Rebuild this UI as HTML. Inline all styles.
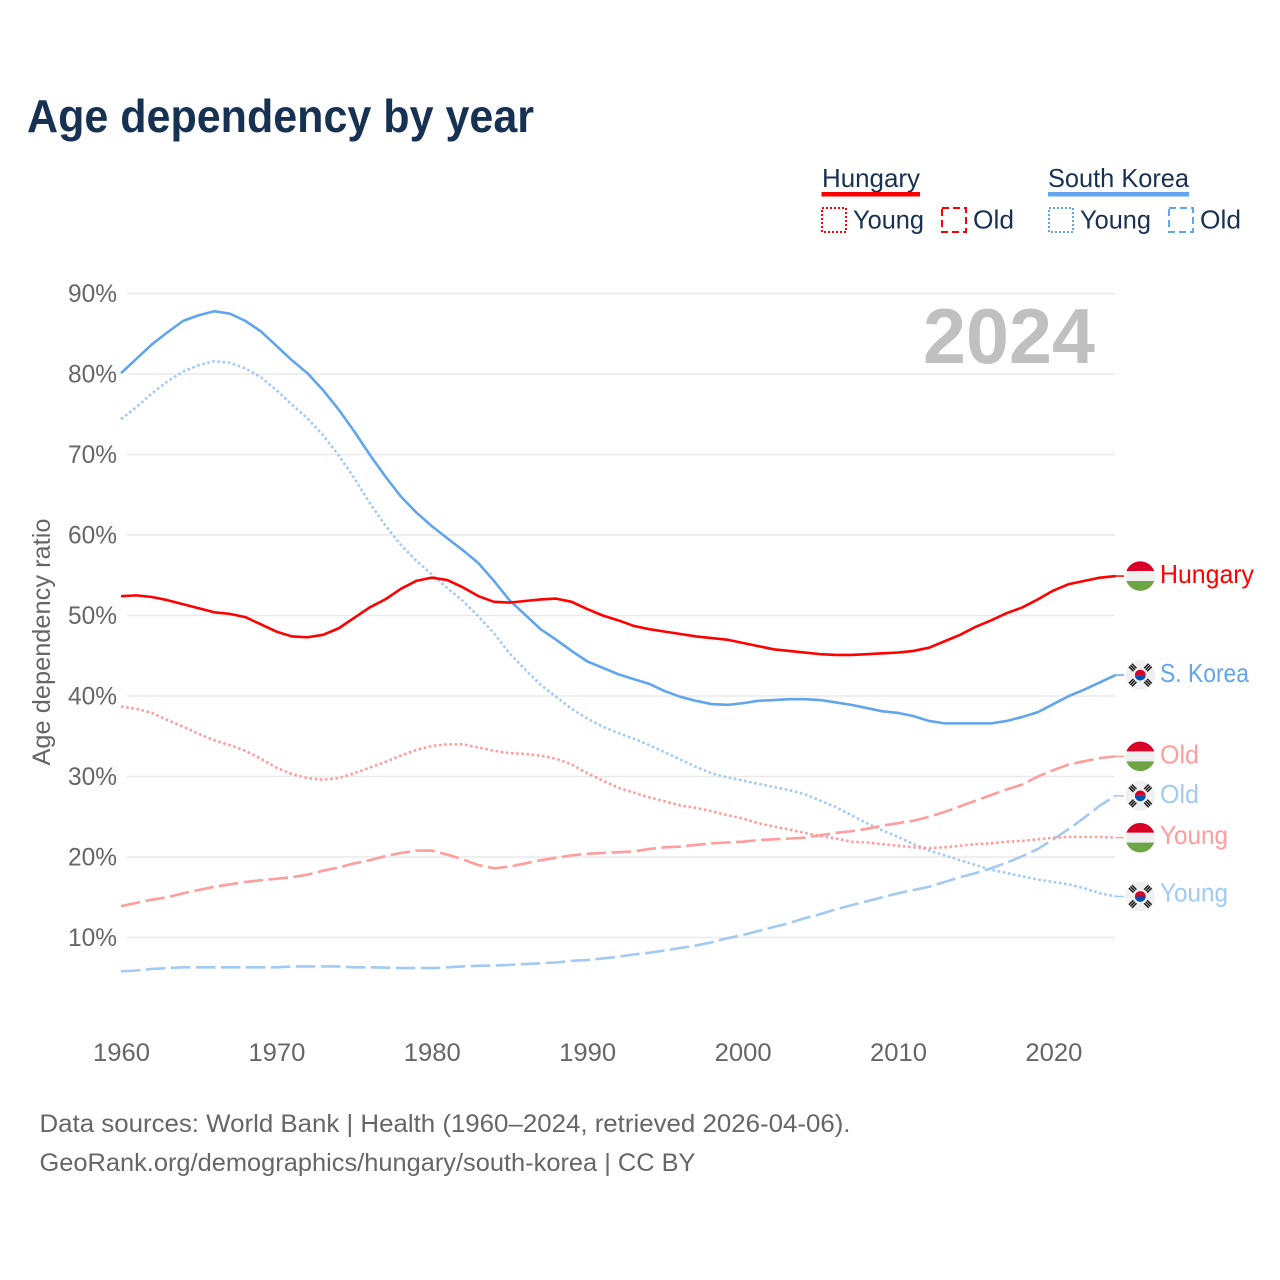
<!DOCTYPE html>
<html lang="en">
<head>
<meta charset="utf-8">
<title>Age dependency by year</title>
<style>
html,body{margin:0;padding:0;background:#fff;}
svg{display:block;font-family:"Liberation Sans",sans-serif;}
</style>
</head>
<body>
<svg id="chart" xmlns="http://www.w3.org/2000/svg" width="1280" height="1280" viewBox="0 0 1280 1280">
  <text x="27" y="132" font-size="46" font-weight="700" fill="#173152" textLength="507" lengthAdjust="spacingAndGlyphs">Age dependency by year</text>

  <g font-size="26" fill="#173152">
    <text x="822" y="187" textLength="98" lengthAdjust="spacingAndGlyphs">Hungary</text>
    <rect x="821.5" y="192" width="98.5" height="4.5" fill="#ff0000"/>
    <rect x="822" y="208" width="24" height="24" fill="none" stroke="#ff0000" stroke-width="2" stroke-dasharray="2 2"/>
    <text x="853" y="228.5" textLength="71" lengthAdjust="spacingAndGlyphs">Young</text>
    <rect x="942" y="208" width="24" height="24" fill="none" stroke="#ff0000" stroke-width="2" stroke-dasharray="7 4"/>
    <text x="973" y="228.5" textLength="41" lengthAdjust="spacingAndGlyphs">Old</text>
    <text x="1048" y="187" textLength="141" lengthAdjust="spacingAndGlyphs">South Korea</text>
    <rect x="1048" y="192" width="141" height="4.5" fill="#60a5ee"/>
    <rect x="1049" y="208" width="24" height="24" fill="none" stroke="#60a5ee" stroke-width="2" stroke-dasharray="2 2"/>
    <text x="1080" y="228.5" textLength="71" lengthAdjust="spacingAndGlyphs">Young</text>
    <rect x="1169" y="208" width="24" height="24" fill="none" stroke="#60a5ee" stroke-width="2" stroke-dasharray="7 4"/>
    <text x="1200" y="228.5" textLength="41" lengthAdjust="spacingAndGlyphs">Old</text>
  </g>

  <g id="grid"></g>
  <g id="yticks"></g>
  <g id="xticks"></g>

  <text transform="translate(50 642) rotate(-90)" text-anchor="middle" font-size="25" fill="#666666" textLength="247" lengthAdjust="spacingAndGlyphs">Age dependency ratio</text>

  <text x="923" y="363" font-size="78" font-weight="700" fill="#c0c0c0" textLength="172" lengthAdjust="spacingAndGlyphs">2024</text>

  <g id="series"></g>
  <g id="endlabels"></g>

  <g font-size="25" fill="#666666">
    <text x="39.5" y="1132" textLength="811" lengthAdjust="spacingAndGlyphs">Data sources: World Bank | Health (1960–2024, retrieved 2026-04-06).</text>
    <text x="39.5" y="1171" textLength="656" lengthAdjust="spacingAndGlyphs">GeoRank.org/demographics/hungary/south-korea | CC BY</text>
  </g>
</svg>

<script>
var firstYear = 1960;
var yTickValues = [10, 20, 30, 40, 50, 60, 70, 80, 90];
var xTickValues = [1960, 1970, 1980, 1990, 2000, 2010, 2020];

var hungaryTotal = [52.4,52.5,52.3,51.9,51.4,50.9,50.4,50.2,49.8,48.9,48.0,47.4,47.3,47.6,48.4,49.7,51.0,52.0,53.3,54.3,54.7,54.4,53.5,52.4,51.7,51.6,51.8,52.0,52.1,51.7,50.8,50.0,49.4,48.7,48.3,48.0,47.7,47.4,47.2,47.0,46.6,46.2,45.8,45.6,45.4,45.2,45.1,45.1,45.2,45.3,45.4,45.6,46.0,46.8,47.6,48.6,49.4,50.3,51.0,52.0,53.1,53.9,54.3,54.7,54.9];
var hungaryYoung = [38.7,38.4,37.9,37.0,36.2,35.3,34.5,33.9,33.2,32.2,31.1,30.3,29.8,29.6,29.8,30.4,31.1,31.8,32.6,33.3,33.8,34.0,34.0,33.6,33.2,32.9,32.8,32.6,32.2,31.5,30.4,29.5,28.6,28.0,27.4,26.9,26.4,26.1,25.7,25.2,24.8,24.2,23.8,23.4,23.0,22.6,22.3,21.9,21.8,21.6,21.4,21.2,21.1,21.2,21.4,21.6,21.7,21.9,22.0,22.2,22.4,22.5,22.5,22.5,22.4];
var hungaryOld = [13.9,14.3,14.7,15.0,15.5,15.9,16.3,16.6,16.9,17.1,17.3,17.5,17.8,18.3,18.7,19.2,19.6,20.1,20.5,20.8,20.8,20.3,19.7,19.0,18.6,18.8,19.2,19.6,19.9,20.2,20.4,20.5,20.6,20.7,21.0,21.2,21.3,21.5,21.7,21.8,21.9,22.1,22.2,22.3,22.4,22.7,23.0,23.2,23.5,23.9,24.2,24.5,25.0,25.6,26.3,27.0,27.7,28.4,29.0,30.0,30.8,31.5,31.9,32.3,32.5];
var koreaTotal = [80.1,81.9,83.7,85.2,86.6,87.3,87.8,87.5,86.6,85.3,83.5,81.7,80.1,78.0,75.6,72.9,70.0,67.3,64.8,62.8,61.1,59.6,58.1,56.5,54.3,51.9,50.1,48.3,47.0,45.6,44.3,43.5,42.7,42.1,41.5,40.6,39.9,39.4,39.0,38.9,39.1,39.4,39.5,39.6,39.6,39.5,39.2,38.9,38.5,38.1,37.9,37.5,36.9,36.6,36.6,36.6,36.6,36.9,37.4,38.0,39.0,40.0,40.8,41.7,42.6];
var koreaYoung = [74.4,75.9,77.6,79.1,80.3,81.1,81.6,81.4,80.7,79.6,78.0,76.2,74.5,72.4,69.9,67.1,64.0,61.2,58.8,56.8,55.1,53.4,51.8,49.9,47.8,45.3,43.3,41.4,39.9,38.4,37.2,36.2,35.4,34.7,33.9,33.0,32.1,31.2,30.4,29.9,29.5,29.1,28.7,28.3,27.8,27.0,26.2,25.2,24.2,23.3,22.5,21.6,20.8,20.2,19.6,19.0,18.4,18.0,17.6,17.2,16.9,16.6,16.1,15.5,15.1];
var koreaOld = [5.8,5.9,6.1,6.2,6.3,6.3,6.3,6.3,6.3,6.3,6.3,6.4,6.4,6.4,6.4,6.3,6.3,6.25,6.2,6.2,6.2,6.3,6.4,6.5,6.5,6.6,6.7,6.8,6.9,7.1,7.2,7.4,7.6,7.9,8.1,8.4,8.7,9.0,9.4,9.9,10.3,10.8,11.3,11.8,12.4,12.9,13.5,14.0,14.5,15.0,15.5,15.9,16.3,16.9,17.5,18.0,18.6,19.3,20.1,21.0,22.2,23.5,24.9,26.4,27.6];

var NS = 'http://www.w3.org/2000/svg';
function xScale(year) { return 121 + (year - 1960) * 15.54; }
function yScale(value) { return 1018 - value * 8.05; }
function make(tag, attrs, parent) {
  var el = document.createElementNS(NS, tag);
  for (var k in attrs) { el.setAttribute(k, attrs[k]); }
  parent.appendChild(el);
  return el;
}

var gridGroup = document.getElementById('grid');
var yTickGroup = document.getElementById('yticks');
var xTickGroup = document.getElementById('xticks');
var seriesGroup = document.getElementById('series');
var labelGroup = document.getElementById('endlabels');

yTickValues.forEach(function (v) {
  var line = make('line', {x1: 127, x2: 1115, y1: yScale(v), y2: yScale(v), stroke: '#eaeaea', 'stroke-width': 1.5}, gridGroup);
  
  
  var t = make('text', {x: 117, y: yScale(v) + 8.5, 'text-anchor': 'end', 'font-size': 25, fill: '#666666', textLength: 49, lengthAdjust: 'spacingAndGlyphs'}, yTickGroup);
  
  
  t.textContent = v + '%';
});

xTickValues.forEach(function (yr) {
  var t = make('text', {x: xScale(yr) + 0.5, y: 1061, 'text-anchor': 'middle', 'font-size': 25, fill: '#666666', textLength: 57, lengthAdjust: 'spacingAndGlyphs'}, xTickGroup);
  
  
  t.textContent = yr;
});

function drawSeries(name, values, color, dash) {
  var pts = values.map(function (v, i) {
    return xScale(firstYear + i).toFixed(2) + ',' + yScale(v).toFixed(2);
  });
  var line = make('polyline', {points: pts.join(' '), fill: 'none', stroke: color, 'stroke-width': 2.6, 'stroke-linejoin': 'round'}, seriesGroup);
  if (dash) { line.setAttribute('stroke-dasharray', dash); }
  
  
  var endY = yScale(values[values.length - 1]);
  var endX = xScale(firstYear + values.length - 1);
  var leader = make('line', {x1: endX, x2: endX + 8.5, y1: endY, y2: endY, stroke: color, 'stroke-width': 1.5}, seriesGroup);
  
  
}

function drawHungaryFlag(cy) {
  var g = make('g', {}, labelGroup);
  
  
  var cx = 1140.3, r = 14.8;
  make('circle', {cx: cx, cy: cy, r: r, fill: '#f0f0f0'}, g);
  var h = 5, w = 13.9;
  make('path', {d: 'M' + (cx - w) + ' ' + (cy - h) + 'A' + r + ' ' + r + ' 0 0 1 ' + (cx + w) + ' ' + (cy - h) + 'Z', fill: '#d80027'}, g);
  make('path', {d: 'M' + (cx - w) + ' ' + (cy + h) + 'A' + r + ' ' + r + ' 0 0 0 ' + (cx + w) + ' ' + (cy + h) + 'Z', fill: '#6da544'}, g);
}

function drawKoreaFlag(cy) {
  var g = make('g', {}, labelGroup);
  
  
  var cx = 1140.3;
  make('circle', {cx: cx, cy: cy, r: 14.8, fill: '#f0f0f0'}, g);
  make('path', {d: 'M' + (cx - 5.4) + ' ' + cy + 'A5.4 5.4 0 0 1 ' + (cx + 5.4) + ' ' + cy + 'Z', fill: '#d80027'}, g);
  make('path', {d: 'M' + (cx - 5.4) + ' ' + cy + 'A5.4 5.4 0 0 0 ' + (cx + 5.4) + ' ' + cy + 'Z', fill: '#0052b4'}, g);
  [[-1, -1], [1, -1], [-1, 1], [1, 1]].forEach(function (s) {
    var bx = cx + s[0] * 7.6, by = cy + s[1] * 7.6;
    var ang = s[0] * s[1] > 0 ? 45 : -45;
    [-2.1, 0, 2.1].forEach(function (o) {
      make('rect', {x: bx - 3.2, y: by + o - 0.75, width: 6.4, height: 1.5, fill: '#1a1a1a', transform: 'rotate(' + ang + ' ' + bx + ' ' + by + ')'}, g);
    });
  });
}

function drawEndLabel(text, values, color, flag, labelWidth, baselineOffset) {
  var cy = yScale(values[values.length - 1]);
  if (flag === 'hu') { drawHungaryFlag(cy); } else { drawKoreaFlag(cy); }
  var t = make('text', {x: 1160, y: cy + baselineOffset, 'font-size': 26, fill: color, textLength: labelWidth, lengthAdjust: 'spacingAndGlyphs'}, labelGroup);
  
  
  t.textContent = text;
}

var RED = '#ff0000', BLUE = '#60a5ee', RED_SOFT = '#ff9d9d', BLUE_SOFT = '#a2caf3';
var DOT = '2.6 2.6', DASH = '19.5 5.5';

drawSeries('korea-old-line', koreaOld, BLUE_SOFT, DASH);
drawSeries('korea-young-line', koreaYoung, BLUE_SOFT, DOT);
drawSeries('hungary-old-line', hungaryOld, RED_SOFT, DASH);
drawSeries('hungary-young-line', hungaryYoung, RED_SOFT, DOT);
drawSeries('korea-total-line', koreaTotal, BLUE, null);
drawSeries('hungary-total-line', hungaryTotal, RED, null);

drawEndLabel('Hungary', hungaryTotal, RED, 'hu', 94, 7);
drawEndLabel('S. Korea', koreaTotal, BLUE, 'kr', 89, 7);
drawEndLabel('Old', hungaryOld, RED_SOFT, 'hu', 39, 7);
drawEndLabel('Old', koreaOld, BLUE_SOFT, 'kr', 39, 7);
drawEndLabel('Young', hungaryYoung, RED_SOFT, 'hu', 68, 6.5);
drawEndLabel('Young', koreaYoung, BLUE_SOFT, 'kr', 68, 5);
</script>
</body>
</html>
